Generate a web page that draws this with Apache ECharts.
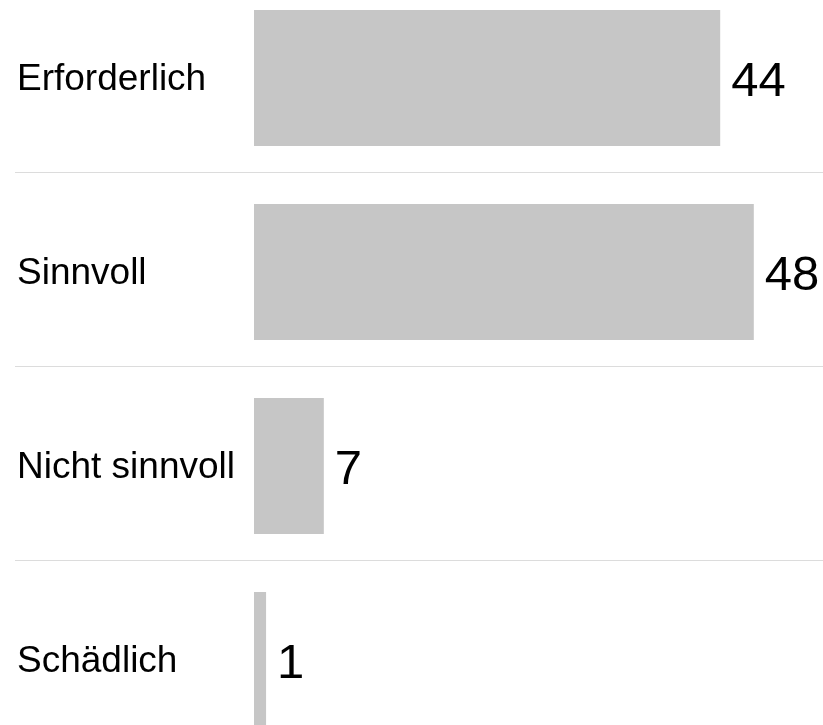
<!DOCTYPE html>
<html>
<head>
<meta charset="utf-8">
<script src="https://cdn.jsdelivr.net/npm/echarts@6/dist/echarts.min.js"></script>
<style>html,body{margin:0;padding:0;background:#fff;overflow:hidden;}#c{position:absolute;left:0;top:-22px;width:823px;height:776px;}</style>
</head>
<body>
<div id="c"></div>
<script>
var categories = ["Erforderlich", "Sinnvoll", "Nicht sinnvoll", "Schädlich"];
var values = [44.4, 47.6, 6.65, 1.15];
var spacer = [0, 0, 0, 0];

var chart = echarts.init(document.getElementById('c'), null, {renderer: 'canvas'});
var font = '"Liberation Sans", Arial, sans-serif';
chart.setOption({
  animation: false,
  grid: [
    {left: 254, right: 44, top: 0, bottom: 0, containLabel: false},
    {left: 15, right: 0, top: 0, bottom: 0, containLabel: false}
  ],
  xAxis: [
    {type: 'value', min: 0, max: 50, show: false, gridIndex: 0},
    {type: 'value', min: 0, max: 1, show: false, gridIndex: 1}
  ],
  yAxis: [
    {
      type: 'category', data: categories, inverse: true, gridIndex: 0,
      axisLine: {show: false}, axisTick: {show: false},
      axisLabel: {align: 'left', verticalAlign: 'top', lineHeight: 10, margin: 237, fontSize: 37, color: '#000', fontFamily: font},
      splitLine: {show: false}
    },
    {
      type: 'category', data: categories, inverse: true, gridIndex: 1,
      axisLine: {show: false}, axisTick: {show: false}, axisLabel: {show: false},
      splitLine: {show: true, lineStyle: {color: '#dcdcdc', width: 1}}
    }
  ],
  series: [
    {type: 'bar', data: spacer, barWidth: 6, barGap: '0%', itemStyle: {color: 'rgba(0,0,0,0)'}, silent: true},
    {type: 'bar', data: values, barWidth: 136, itemStyle: {color: '#c6c6c6'},
     label: {show: true, position: 'right', distance: 11, offset: [0, 4], fontSize: 49, color: '#000', fontFamily: font,
             formatter: function (p) { return Math.round(p.value); }}}
  ]
});
</script>
</body>
</html>
